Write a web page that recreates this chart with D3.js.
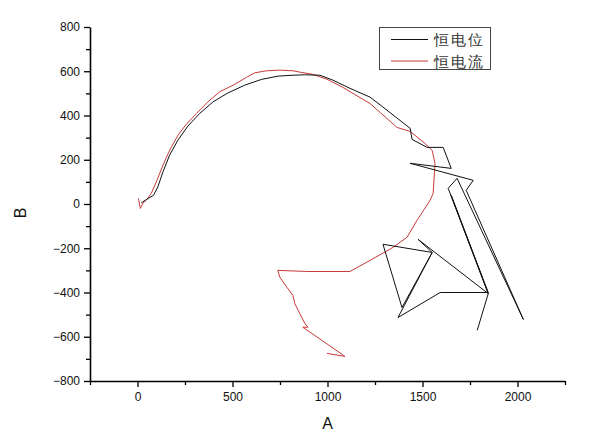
<!DOCTYPE html>
<html>
<head>
<meta charset="utf-8">
<script src="https://d3js.org/d3.v7.min.js"></script>
<style>
  body { margin: 0; background: #fff; }
  text { font-family: "Liberation Sans", Arial, sans-serif; }
</style>
</head>
<body>
<div id="chart"></div>
<script>
// series names
var seriesNames = ["恒电位", "恒电流"];

// 恒电位 (black) points [A, B]
var potentioA = [20, 54, 84, 107, 134, 169, 213, 265, 327, 398, 476, 564, 652, 740, 819, 880, 960, 1028, 1118, 1224, 1313, 1435, 1445, 1524, 1609, 1651, 1435, 1767, 1730, 2031, 1682, 1635, 1846, 1651, 1846, 1593, 1371, 1551, 1392, 1292, 1551, 1477, 1846, 1788];
var potentioB = [5, 24, 39, 77, 145, 221, 289, 352, 409, 462, 502, 537, 563, 578, 582, 584, 582, 560, 523, 483, 424, 342, 292, 256, 256, 161, 184, 107, 62, -522, 116, 71, -405, 39, -400, -400, -513, -219, -468, -182, -219, -160, -405, -571];

// 恒电流 (red) points [A, B]
var galvanoA = [5, 15, 30, 46, 72, 99, 134, 169, 213, 257, 310, 371, 432, 503, 573, 617, 679, 749, 819, 854, 923, 997, 1081, 1224, 1366, 1435, 1514, 1551, 1566, 1556, 1540, 1471, 1419, 1345, 1224, 1118, 891, 738, 749, 786, 818, 828, 854, 881, 897, 870, 970, 1092, 997];
var galvanoB = [25, -20, 5, 17, 47, 100, 175, 243, 311, 361, 409, 462, 507, 537, 572, 593, 602, 605, 602, 596, 586, 564, 527, 454, 346, 328, 273, 242, 183, 48, 17, -74, -150, -196, -255, -305, -305, -300, -331, -376, -413, -450, -495, -540, -557, -557, -616, -689, -675];

var xMajor = [0, 500, 1000, 1500, 2000];
var yMajor = [-800, -600, -400, -200, 0, 200, 400, 600, 800];

var width = 600, height = 440;
var margin = {top: 27, right: 35, bottom: 59, left: 90};

var svg = d3.select("#chart").append("svg")
  .attr("width", width).attr("height", height);

var x = d3.scaleLinear().domain([-250, 2250]).range([margin.left, width - margin.right]);
var y = d3.scaleLinear().domain([-800, 800]).range([height - margin.bottom, margin.top]);

// minor ticks
var xMinor = d3.range(-250, 2251, 250).filter(function(v){ return xMajor.indexOf(v) < 0; });
var yMinor = d3.range(-700, 800, 200);

var gx = svg.append("g").attr("transform", "translate(0," + y(-800) + ")");
gx.append("g").call(d3.axisBottom(x).tickValues(xMinor).tickSize(4).tickFormat(""))
  .call(function(g){ g.select(".domain").remove(); });
gx.append("g").call(d3.axisBottom(x).tickValues(xMajor).tickSize(6).tickSizeOuter(0).tickPadding(5).tickFormat(d3.format("d")));

var gy = svg.append("g").attr("transform", "translate(" + x(-250) + ",0)");
gy.append("g").call(d3.axisLeft(y).tickValues(yMinor).tickSize(4).tickFormat(""))
  .call(function(g){ g.select(".domain").remove(); });
gy.append("g").call(d3.axisLeft(y).tickValues(yMajor).tickSize(6).tickSizeOuter(0).tickPadding(4));

svg.selectAll(".domain").attr("stroke", "#000").attr("stroke-width", 1.6);
svg.selectAll(".tick line").attr("stroke", "#000").attr("stroke-width", 1.3);
svg.selectAll(".tick text").attr("font-size", 12).attr("fill", "#111")
  .attr("font-family", "'Liberation Sans', Arial, sans-serif");

// axis titles
svg.append("text").attr("x", x(1000)).attr("y", 429)
  .attr("text-anchor", "middle").attr("font-size", 16).attr("fill", "#111").text("A");
svg.append("text").attr("transform", "translate(26," + 213 + ") rotate(-90)")
  .attr("text-anchor", "middle").attr("font-size", 16).attr("fill", "#111").text("B");

var line = d3.line().x(function(d){ return x(d[0]); }).y(function(d){ return y(d[1]); });

var redData = galvanoA.map(function(v, i){ return [v, galvanoB[i]]; });
var blackData = potentioA.map(function(v, i){ return [v, potentioB[i]]; });

svg.append("path").datum(redData).attr("d", line)
  .attr("fill", "none").attr("stroke", "#c83a3a").attr("stroke-width", 1);
svg.append("path").datum(blackData).attr("d", line)
  .attr("fill", "none").attr("stroke", "#111").attr("stroke-width", 1);

// legend
var colors = ["#111", "#c83a3a"];
var leg = svg.append("g");
leg.append("rect").attr("x", 379.5).attr("y", 27.5).attr("width", 111).attr("height", 42)
  .attr("fill", "#fff").attr("stroke", "#444").attr("stroke-width", 1);
seriesNames.forEach(function(name, i){
  var yy = 39.5 + i * 21.5;
  leg.append("line").attr("x1", 391).attr("x2", 428).attr("y1", yy).attr("y2", yy)
    .attr("stroke", colors[i]).attr("stroke-width", 1);
  leg.append("text").attr("x", 434).attr("y", yy + 5.5)
    .attr("font-family", "'Noto Sans CJK SC', sans-serif")
    .attr("font-size", 15).attr("letter-spacing", 2).attr("fill", "#333").text(name);
});
</script>
</body>
</html>
